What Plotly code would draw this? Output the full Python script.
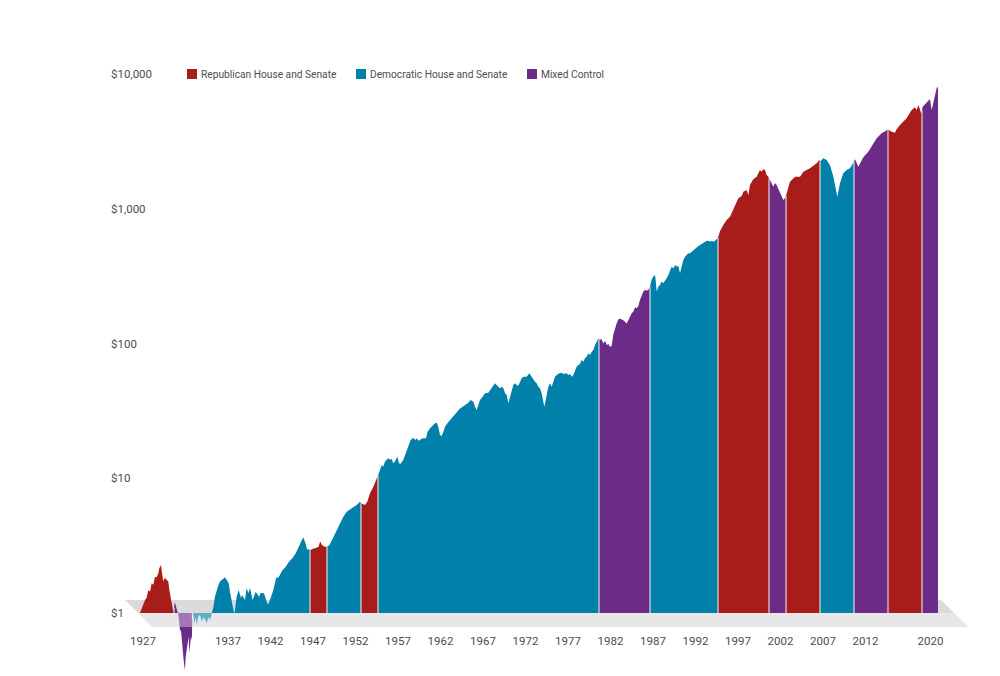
import math
import plotly.graph_objects as go

# ---------------- data ----------------
# growth of $1, sampled along the curve (year, value)
years = [
    # 1927-1931
    1927.0, 1927.2, 1927.4, 1927.59, 1927.78, 1927.98, 1928.18, 1928.37, 1928.57, 1928.76,
    1928.96, 1929.16, 1929.27, 1929.47, 1929.59, 1929.75, 1929.87, 1929.98, 1930.15, 1930.33,
    1930.45, 1930.61, 1930.76, 1930.92,
    # 1931-1933
    1931.0, 1931.1, 1931.3, 1931.51, 1931.63, 1931.71, 1931.82, 1931.9, 1932.02, 1932.1,
    1932.22, 1932.29, 1932.37, 1932.49, 1932.61, 1932.73, 1932.8, 1932.88, 1933.0, 1933.1,
    # 1933-1947
    1933.17, 1933.27, 1933.39, 1933.55, 1933.67, 1933.86, 1934.06, 1934.26, 1934.45, 1934.65,
    1934.85, 1935.04, 1935.24, 1935.43, 1935.63, 1935.82, 1936.02, 1936.22, 1936.41, 1936.61,
    1936.8, 1937.0, 1937.2, 1937.43, 1937.59, 1937.82, 1937.98, 1938.1, 1938.22, 1938.37,
    1938.61, 1938.88, 1939.0, 1939.35, 1939.55, 1939.75, 1939.94, 1940.25, 1940.61, 1941.0,
    1941.2, 1941.59, 1941.9, 1942.06, 1942.37, 1942.69, 1943.0, 1943.35, 1943.75, 1944.14,
    1944.53, 1944.92, 1945.31, 1945.71, 1946.1, 1946.2, 1946.47, 1946.67, 1946.85,
    # 1947-1949
    1947.0, 1947.3, 1947.6, 1947.8, 1948.0, 1948.2, 1948.4, 1948.7,
    # 1949-1953
    1949.0, 1949.3, 1949.75, 1950.14, 1950.53, 1950.92, 1951.31, 1951.71, 1952.1, 1952.49,
    1952.88,
    # 1953-1955
    1953.0, 1953.47, 1953.74, 1954.06, 1954.45, 1954.84,
    # 1955-1981
    1955.0, 1955.24, 1955.43, 1955.63, 1955.82, 1956.21, 1956.41, 1956.61, 1956.8, 1957.0,
    1957.27, 1957.47, 1957.67, 1957.98, 1958.29, 1958.57, 1958.84, 1959.16, 1959.35, 1959.55,
    1959.82, 1960.14, 1960.33, 1960.65, 1960.84, 1961.12, 1961.51, 1961.71, 1961.9, 1962.1,
    1962.29, 1962.49, 1962.69, 1962.88, 1963.16, 1963.47, 1963.86, 1964.26, 1964.65, 1964.96,
    1965.24, 1965.63, 1965.9, 1966.22, 1966.41, 1966.61, 1966.8, 1967.0, 1967.31, 1967.59,
    1967.98, 1968.18, 1968.37, 1968.57, 1968.76, 1968.96, 1969.16, 1969.35, 1969.55, 1969.75,
    1969.94, 1970.14, 1970.33, 1970.53, 1970.73, 1970.92, 1971.12, 1971.31, 1971.51, 1971.9,
    1972.1, 1972.49, 1972.8, 1973.08, 1973.27, 1973.47, 1973.67, 1973.86, 1974.06, 1974.25,
    1974.45, 1974.57, 1974.69, 1974.84, 1975.04, 1975.24, 1975.43, 1975.63, 1975.82, 1976.02,
    1976.33, 1976.61, 1976.8, 1977.2, 1977.39, 1977.59, 1977.78, 1977.98, 1978.18, 1978.37,
    1978.57, 1978.76, 1978.96, 1979.16, 1979.35, 1979.55, 1979.75, 1979.94, 1980.14, 1980.33,
    1980.53, 1980.73, 1980.92,
    # 1981-1987
    1981.0, 1981.31, 1981.51, 1981.71, 1981.9, 1982.1, 1982.29, 1982.49, 1982.68, 1982.88,
    1983.07, 1983.27, 1983.47, 1983.86, 1984.25, 1984.65, 1984.84, 1985.04, 1985.24, 1985.43,
    1985.63, 1985.82, 1986.02, 1986.22, 1986.41, 1986.61, 1986.8,
    # 1987-1995
    1987.0, 1987.2, 1987.51, 1987.63, 1987.79, 1987.98, 1988.18, 1988.37, 1988.57, 1988.76,
    1988.96, 1989.16, 1989.35, 1989.55, 1989.75, 1989.94, 1990.14, 1990.33, 1990.53, 1990.92,
    1991.12, 1991.31, 1991.51, 1991.71, 1992.1, 1992.29, 1992.69, 1992.88, 1993.08, 1993.27,
    1993.47, 1993.67, 1993.86, 1994.06, 1994.25, 1994.45, 1994.65, 1994.84,
    # 1995-2001
    1995.0, 1995.23, 1995.63, 1996.02, 1996.41, 1996.8, 1997.19, 1997.39, 1997.78, 1997.98,
    1998.37, 1998.57, 1998.76, 1999.15, 1999.55, 1999.74, 1999.94, 2000.13, 2000.33, 2000.53,
    2000.72, 2000.92,
    # 2001-2003
    2001.0, 2001.12, 2001.51, 2001.7, 2001.9, 2002.29, 2002.68, 2002.88,
    # 2003-2007
    2003.0, 2003.27, 2003.47, 2004.06, 2004.65, 2005.04, 2005.82, 2006.61, 2006.92,
    # 2007-2011
    2007.0, 2007.39, 2007.78, 2008.17, 2008.57, 2008.76, 2009.04, 2009.35, 2009.74, 2010.14,
    2010.53, 2010.92,
    # 2011-2015
    2011.0, 2011.12, 2011.51, 2011.75, 2012.1, 2012.68, 2013.27, 2013.67, 2014.25, 2014.84,
    # 2015-2019
    2015.0, 2015.43, 2015.82, 2016.02, 2016.41, 2017.19, 2017.78, 2018.17, 2018.37, 2018.57,
    2018.76, 2018.88,
    # 2019-2021
    2019.0, 2019.08, 2019.74, 2019.94, 2020.14, 2020.35, 2020.53, 2020.72, 2020.88,
]
values = [
    # 1927-1931
    1.00, 1.08, 1.18, 1.25, 1.30, 1.48, 1.44, 1.66, 1.62, 1.86,
    1.84, 1.97, 2.15, 2.27, 1.97, 1.71, 1.80, 1.81, 1.76, 1.71,
    1.48, 1.29, 1.11, 1.02,
    # 1931-1933
    1.10, 1.20, 1.08, 0.97, 0.84, 0.73, 0.75, 0.63, 0.56, 0.47,
    0.40, 0.377, 0.47, 0.52, 0.60, 0.67, 0.505, 0.56, 0.667, 0.63,
    # 1933-1947
    0.90, 0.97, 0.84, 0.93, 0.815, 0.94, 0.97, 0.86, 0.93, 0.90,
    0.84, 0.93, 0.89, 1.00, 1.11, 1.32, 1.48, 1.61, 1.71, 1.76,
    1.81, 1.84, 1.76, 1.66, 1.44, 1.18, 1.05, 0.97, 1.11, 1.32,
    1.48, 1.29, 1.36, 1.25, 1.53, 1.40, 1.53, 1.25, 1.44, 1.32,
    1.41, 1.40, 1.21, 1.15, 1.29, 1.48, 1.81, 1.86, 2.08, 2.20,
    2.40, 2.55, 2.77, 3.10, 3.52, 3.65, 3.29, 2.93, 3.00,
    # 1947-1949
    2.90, 3.00, 3.03, 3.07, 3.10, 3.40, 3.20, 3.10,
    # 1949-1953
    3.10, 3.20, 3.65, 4.13, 4.63, 5.19, 5.65, 5.88, 6.15, 6.33,
    6.70,
    # 1953-1955
    6.52, 6.33, 6.70, 7.73, 8.65, 10.0,
    # 1955-1981
    10.5, 11.5, 12.5, 12.2, 13.3, 14.1, 13.7, 13.9, 12.9, 13.3,
    14.5, 12.9, 12.8, 13.7, 15.3, 17.1, 19.2, 20.0, 19.2, 19.7,
    19.0, 19.6, 19.8, 19.8, 22.1, 23.5, 24.8, 25.6, 25.8, 24.1,
    20.9, 20.6, 22.1, 24.1, 25.6, 27.1, 28.6, 30.7, 33.0, 34.0,
    35.0, 36.4, 38.1, 37.0, 34.0, 32.1, 35.0, 38.1, 40.3, 42.7,
    43.1, 45.2, 46.5, 49.2, 50.7, 49.2, 47.8, 46.5, 47.8, 46.5,
    42.7, 41.5, 36.0, 40.3, 45.2, 49.2, 50.7, 49.2, 48.6, 55.2,
    56.7, 56.7, 60.1, 56.7, 53.6, 52.1, 50.7, 47.8, 46.5, 42.7,
    37.0, 34.0, 37.0, 42.7, 47.8, 50.7, 47.8, 52.1, 56.7, 58.4,
    60.1, 60.7, 59.4, 60.1, 58.4, 59.4, 56.7, 58.4, 63.6, 67.3,
    69.3, 70.5, 75.5, 73.3, 77.6, 79.8, 84.6, 82.2, 86.9, 89.5,
    97.5, 103, 109,
    # 1981-1987
    108, 107, 100, 105, 97.5, 99.2, 94.7, 95.8, 116, 130,
    141, 151, 153, 149, 141, 158, 168, 172, 186, 183,
    190, 210, 229, 243, 250, 247, 250,
    # 1987-1995
    265, 299, 322, 313, 243, 264, 272, 288, 280, 296,
    305, 322, 351, 372, 361, 383, 372, 376, 332, 417,
    441, 454, 467, 467, 494, 500, 529, 538, 548, 560,
    570, 579, 579, 570, 579, 570, 579, 593,
    # 1995-2001
    610, 680, 757, 826, 873, 979, 1127, 1196, 1244, 1339,
    1378, 1265, 1501, 1654, 1730, 1834, 1940, 1884, 1963, 1940,
    1782, 1730,
    # 2001-2003
    1680, 1634, 1458, 1550, 1501, 1339, 1161, 1196,
    # 2003-2007
    1250, 1458, 1588, 1730, 1730, 1884, 1995, 2173, 2301,
    # 2007-2011
    2234, 2367, 2301, 2112, 1730, 1501, 1228, 1545, 1834, 1940,
    1995, 2198,
    # 2011-2015
    2250, 2330, 2051, 2200, 2410, 2650, 3062, 3335, 3632, 3846,
    # 2015-2019
    3880, 3733, 3665, 3890, 4188, 4691, 5408, 5663, 5408, 5888,
    5470, 5108,
    # 2019-2021
    5400, 5719, 6339, 6490, 5408, 6232, 6779, 7834, 8050,
]
assert len(years) == len(values)

# Congressional control periods (start year of each period, and party)
period_start = [1927.0, 1931.0, 1933.17, 1947.0, 1949.0, 1953.0, 1955.0, 1981.0,
                1987.0, 1995.0, 2001.0, 2003.0, 2007.0, 2011.0, 2015.0, 2019.0]
period_party = ["R", "M", "D", "R", "D", "R", "D", "M",
                "D", "R", "M", "R", "D", "M", "R", "M"]

party_names = {"R": "Republican House and Senate",
               "D": "Democratic House and Senate",
               "M": "Mixed Control"}
party_order = ["R", "D", "M"]

tick_years = [1927, 1937, 1942, 1947, 1952, 1957, 1962, 1967, 1972, 1977,
              1982, 1987, 1992, 1997, 2002, 2007, 2012, 2020]
y_tick_values = [1, 10, 100, 1000, 10000]
y_tick_text = ["$1", "$10", "$100", "$1,000", "$10,000"]

# ---------------- styling ----------------
COLORS = {"R": "#a81c1a", "D": "#0180aa", "M": "#6b2b87"}
FONT = "Roboto, Liberation Sans, sans-serif"
TEXT_COLOR = "#4d4d4d"
W, H = 1000, 676
PX_PER_YEAR = 8.5
X0_PX = 140.0          # pixel of 1927.0
BASE_PX = 613.0        # pixel of $1
PX_PER_DECADE = 134.75


def px_x(px):
    return px / W


def px_y(py):
    return 1 - py / H


fig = go.Figure()

period_end = period_start[1:] + [years[-1]]
for s, e, p in zip(period_start, period_end, period_party):
    xs = [yr for yr in years if s <= yr <= e]
    vs = [v for yr, v in zip(years, values) if s <= yr <= e]
    fig.add_trace(go.Scatter(
        x=xs + [xs[-1], xs[0]], y=vs + [1, 1],
        fill="toself", fillcolor=COLORS[p], mode="lines",
        line=dict(width=0, color=COLORS[p]),
        showlegend=False, hoverinfo="skip"))

# thin separators between periods
for b in period_start[1:]:
    v = values[years.index(b)]
    fig.add_trace(go.Scatter(
        x=[b, b], y=[1, v], mode="lines",
        line=dict(color="rgba(255,255,255,0.8)", width=1.2),
        showlegend=False, hoverinfo="skip"))

# x range / y range chosen so that the plot spans the whole figure
x_lo = 1927 - X0_PX / PX_PER_YEAR
x_hi = 1927 + (W - X0_PX) / PX_PER_YEAR
y_lo = (BASE_PX - H) / PX_PER_DECADE
y_hi = BASE_PX / PX_PER_DECADE

shapes = []
# floor (parallelogram)
floor = [(125, 600), (941, 600), (968, 627), (152, 627)]
path = "M " + " L ".join(f"{px_x(a):.5f},{px_y(b):.5f}" for a, b in floor) + " Z"
shapes.append(dict(type="path", path=path, xref="paper", yref="paper",
                   fillcolor="#dadada", line=dict(width=0), layer="below"))
# front part of the floor drawn over the values that fall below $1
front = [(138, 613), (954, 613), (968, 627), (152, 627)]
path2 = "M " + " L ".join(f"{px_x(a):.5f},{px_y(b):.5f}" for a, b in front) + " Z"
shapes.append(dict(type="path", path=path2, xref="paper", yref="paper",
                   fillcolor="rgba(255,255,255,0.36)", line=dict(width=0), layer="above"))

annotations = []
# legend (squares + labels)
legend_sq_x = {"R": 187, "D": 356, "M": 527}
for p in party_order:
    x0 = legend_sq_x[p]
    shapes.append(dict(type="rect", xref="paper", yref="paper",
                       x0=px_x(x0), x1=px_x(x0 + 10), y0=px_y(79), y1=px_y(69),
                       fillcolor=COLORS[p], line=dict(width=0)))
    annotations.append(dict(xref="paper", yref="paper", x=px_x(x0 + 13), y=px_y(74),
                            xanchor="left", yanchor="middle", showarrow=False,
                            text=party_names[p], borderpad=0,
                            font=dict(family=FONT, size=10.2, color=TEXT_COLOR)))

# y-axis labels (left aligned, placed on the log scale)
for v, t in zip(y_tick_values, y_tick_text):
    annotations.append(dict(xref="paper", yref="y", x=px_x(110), y=math.log10(v),
                            xanchor="left", yanchor="middle", showarrow=False,
                            text=t, borderpad=0,
                            font=dict(family=FONT, size=11.5, color=TEXT_COLOR)))

tick_pos = [t + 0.35 if t != tick_years[-1] else float(t) for t in tick_years]

fig.update_layout(
    width=W, height=H,
    margin=dict(l=0, r=0, t=0, b=0),
    paper_bgcolor="white", plot_bgcolor="white",
    showlegend=False,
    shapes=shapes, annotations=annotations,
    xaxis=dict(range=[x_lo, x_hi], anchor="free", position=(H - 632) / H,
               tickvals=tick_pos, ticktext=[str(t) for t in tick_years],
               showgrid=False, zeroline=False, showline=False, ticks="",
               tickfont=dict(family=FONT, size=11.5, color=TEXT_COLOR)),
    yaxis=dict(type="log", range=[y_lo, y_hi], showticklabels=False,
               showgrid=False, zeroline=False, showline=False, ticks=""),
)

fig.write_html("out.html")
